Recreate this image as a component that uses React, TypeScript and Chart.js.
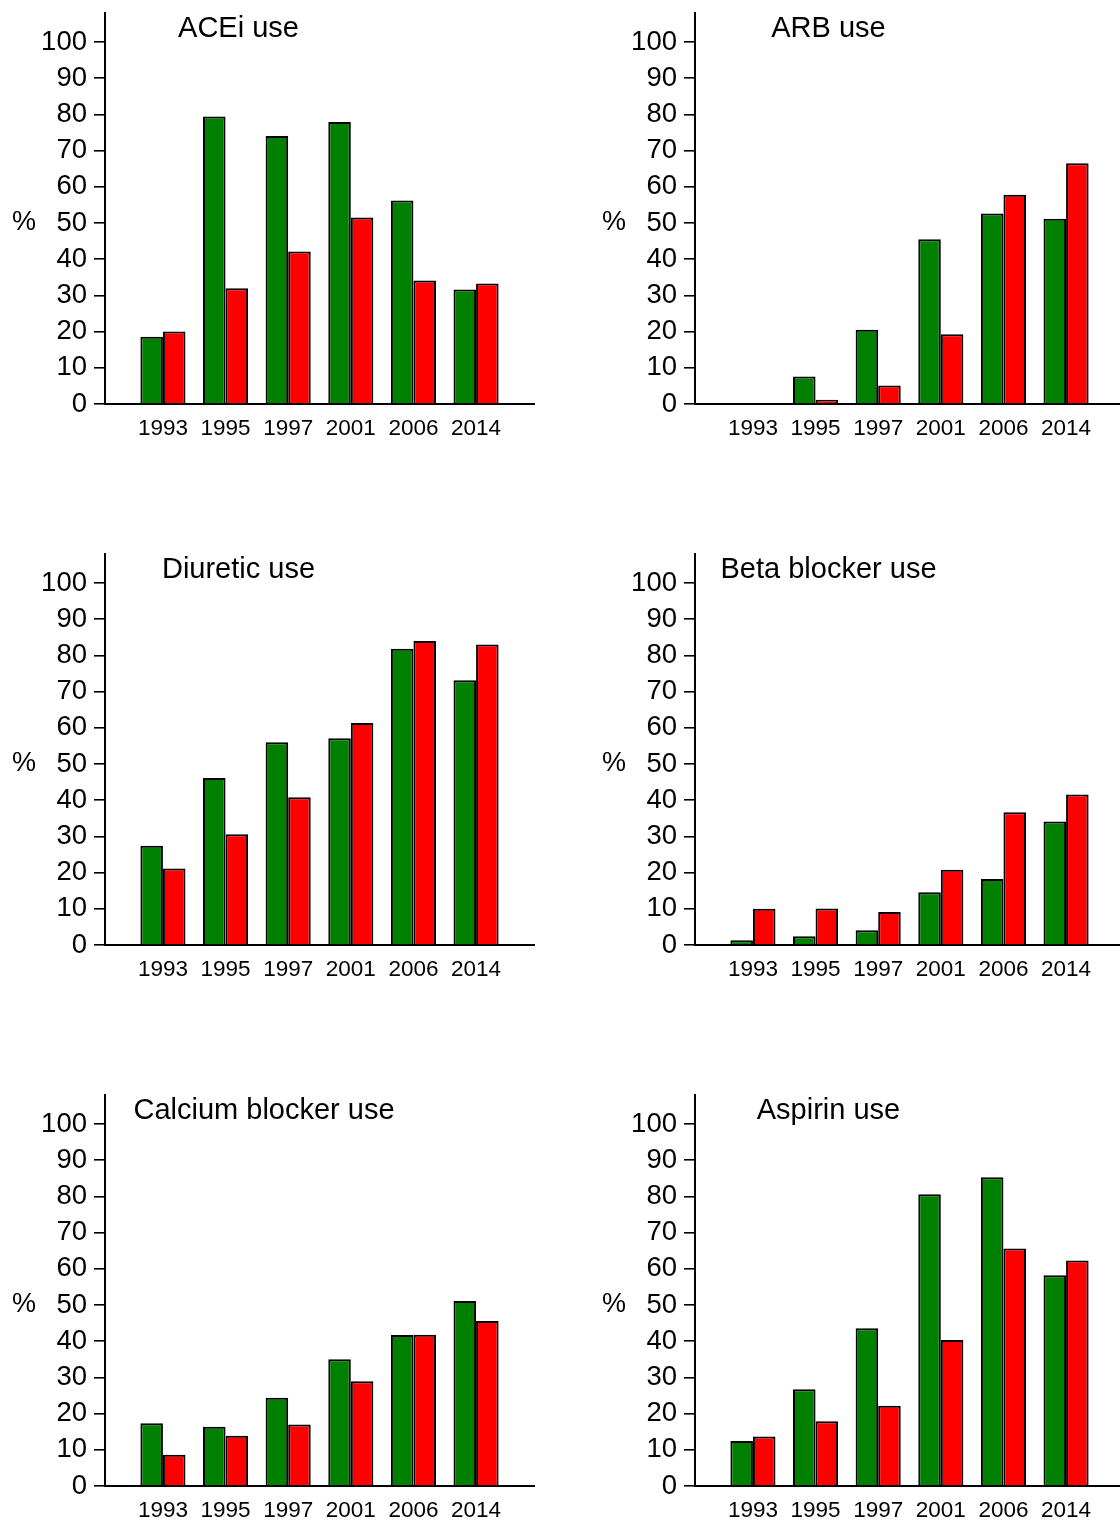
import React, { useEffect, useRef } from 'react';
import { Chart, registerables } from 'chart.js';

Chart.register(...registerables);

const FONT = '"Liberation Sans", Arial, Helvetica, sans-serif';

const years = ['1993', '1995', '1997', '2001', '2006', '2014'];
const yTickStep = 10;
const yMax = 108;

const aceiGreen = [18.6, 79.4, 74.0, 77.9, 56.2, 31.6];
const aceiRed = [20.0, 32.0, 42.1, 51.5, 34.1, 33.3];
const arbGreen = [null, 7.6, 20.5, 45.5, 52.6, 51.2];
const arbRed = [null, 1.2, 5.1, 19.3, 57.8, 66.5];
const diureticGreen = [27.4, 46.1, 56.0, 57.1, 81.8, 73.1];
const diureticRed = [21.1, 30.6, 40.8, 61.3, 84.0, 83.0];
const betaGreen = [1.3, 2.4, 4.1, 14.6, 18.2, 34.1];
const betaRed = [10.0, 10.1, 9.1, 20.8, 36.7, 41.6];
const calciumGreen = [17.3, 16.4, 24.4, 35.0, 41.7, 51.1];
const calciumRed = [8.6, 13.9, 17.0, 28.9, 41.8, 45.6];
const aspirinGreen = [12.4, 26.7, 43.6, 80.6, 85.3, 58.2];
const aspirinRed = [13.7, 17.9, 22.2, 40.3, 65.6, 62.3];

const PANEL_W = 560;
const PANEL_H = 541;

const panelText = {
  id: 'panelText',
  afterDraw(chart: any, _args: any, opts: any) {
    const ctx = chart.ctx;
    const yScale = chart.scales.y;
    ctx.save();
    ctx.fillStyle = '#000';
    ctx.font = `${opts.titleSize}px ${FONT}`;
    ctx.textAlign = 'center';
    ctx.textBaseline = 'alphabetic';
    ctx.fillText(opts.title, opts.titleX, opts.titleY);
    ctx.font = `${opts.unitSize}px ${FONT}`;
    ctx.textBaseline = 'middle';
    ctx.fillText('%', opts.unitX, yScale.getPixelForValue(50));
    ctx.restore();
  },
};

function toPoints(vals: (number | null)[]) {
  return vals.map((v, i) => ({ x: i, y: v }));
}

function Panel(props: { title: string; green: (number | null)[]; red: (number | null)[]; titleX: number; left: number; top: number }) {
  const ref = useRef<HTMLCanvasElement | null>(null);
  useEffect(() => {
    if (!ref.current) return;
    const chart = new Chart(ref.current, {
      type: 'bar',
      data: {
        datasets: [
          {
            label: 'Series 1',
            data: toPoints(props.green) as any,
            backgroundColor: '#008000',
            borderColor: '#000',
            borderWidth: 2,
            categoryPercentage: 0.72,
            barPercentage: 1,
          },
          {
            label: 'Series 2',
            data: toPoints(props.red) as any,
            backgroundColor: '#ff0000',
            borderColor: '#000',
            borderWidth: 2,
            categoryPercentage: 0.72,
            barPercentage: 1,
          },
        ],
      },
      options: {
        animation: false,
        responsive: false,
        maintainAspectRatio: false,
        devicePixelRatio: 1,
        layout: { padding: { left: 0, right: 26, top: 13, bottom: 0 } },
        plugins: {
          legend: { display: false },
          tooltip: { enabled: false },
          title: { display: false },
          panelText: { title: props.title, titleX: props.titleX, titleY: 37, titleSize: 29, unitSize: 27, unitX: 24 },
        } as any,
        scales: {
          x: {
            type: 'linear',
            offset: false,
            min: -0.925,
            max: 5.925,
            grid: { display: false, drawTicks: false, tickLength: 0, offset: false },
            border: { display: true, color: '#000', width: 2 },
            ticks: {
              stepSize: 1,
              includeBounds: false,
              autoSkip: false,
              maxRotation: 0,
              minRotation: 0,
              padding: 11,
              color: '#000',
              font: { family: FONT, size: 22.5 },
              callback: (v: any) => (Number.isInteger(v) && years[v] !== undefined ? years[v] : ''),
            } as any,
            afterFit: (scale: any) => {
              scale.height = 137;
              scale.paddingLeft = 0;
              scale.paddingRight = 0;
            },
          },
          y: {
            type: 'linear',
            min: 0,
            max: yMax,
            grid: { display: true, drawOnChartArea: false, drawTicks: true, tickLength: 11, color: '#000', lineWidth: 1.6 },
            border: { display: true, color: '#000', width: 2 },
            ticks: {
              stepSize: yTickStep,
              includeBounds: false,
              padding: 7,
              color: '#000',
              font: { family: FONT, size: 27.5 },
            } as any,
            afterFit: (scale: any) => {
              scale.width = 105;
              scale.paddingTop = 0;
              scale.paddingBottom = 0;
            },
          },
        },
      },
      plugins: [panelText as any],
    });
    return () => chart.destroy();
  }, []);
  return (
    <canvas
      ref={ref}
      width={PANEL_W}
      height={PANEL_H}
      style={{ position: 'absolute', left: props.left, top: props.top, width: PANEL_W, height: PANEL_H }}
    />
  );
}

export default function App() {
  return (
    <div style={{ position: 'absolute', left: 0, top: 0, width: 1120, height: 1522, overflow: 'hidden', background: '#fff' }}>
      <Panel title="ACEi use" green={aceiGreen} red={aceiRed} titleX={238.5} left={0} top={0} />
      <Panel title="ARB use" green={arbGreen} red={arbRed} titleX={238.5} left={590} top={0} />
      <Panel title="Diuretic use" green={diureticGreen} red={diureticRed} titleX={238.5} left={0} top={541} />
      <Panel title="Beta blocker use" green={betaGreen} red={betaRed} titleX={238.5} left={590} top={541} />
      <Panel title="Calcium blocker use" green={calciumGreen} red={calciumRed} titleX={264} left={0} top={1082} />
      <Panel title="Aspirin use" green={aspirinGreen} red={aspirinRed} titleX={238.5} left={590} top={1082} />
    </div>
  );
}
